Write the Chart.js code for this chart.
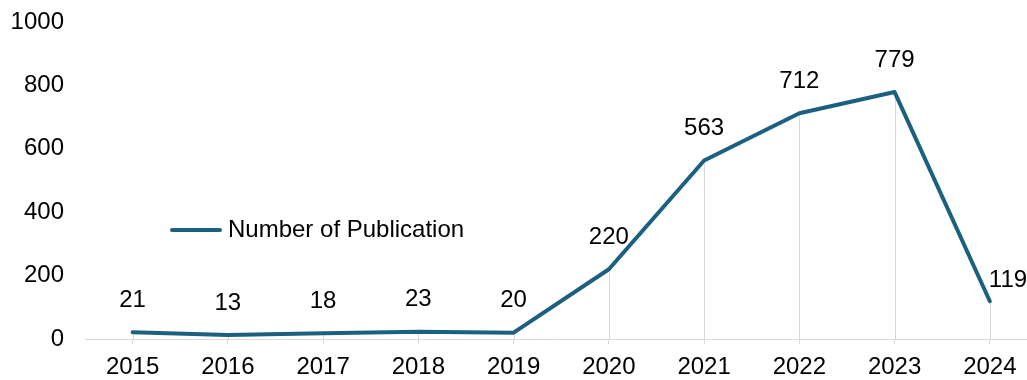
<!DOCTYPE html>
<html>
<head>
<meta charset="utf-8">
<script src="https://cdn.jsdelivr.net/npm/chart.js@4"></script>
<style>
    html, body { margin: 0; padding: 0; background: #fff; overflow: hidden; }
    #wrap { width: 1027px; height: 380px; position: relative; }
</style>
</head>
<body>
<div id="wrap"><canvas id="pubChart"></canvas></div>
<script>
// Data
const years = [2015, 2016, 2017, 2018, 2019, 2020, 2021, 2022, 2023, 2024];
const publications = [21, 13, 18, 23, 20, 220, 563, 712, 779, 119];
const yTicks = [0, 200, 400, 600, 800, 1000];
const seriesLabel = 'Number of Publication';

const lineColor = '#1c6080';
const gridGray = '#d9d9d9';
const fontFamily = "'Liberation Sans', Arial, sans-serif";
const fontSize = 24;

// Gray drop lines from each point down to the baseline
const dropLines = {
    id: 'dropLines',
    beforeDatasetsDraw(chart) {
        const ctx = chart.ctx;
        const meta = chart.getDatasetMeta(0);
        const base = chart.scales.y.getPixelForValue(0);
        ctx.save();
        ctx.strokeStyle = gridGray;
        ctx.lineWidth = 1;
        meta.data.forEach(pt => {
            const x = Math.round(pt.x) + 0.5;
            ctx.beginPath();
            ctx.moveTo(x, pt.y);
            ctx.lineTo(x, base);
            ctx.stroke();
        });
        ctx.restore();
    }
};

// Value labels above the points
const valueLabels = {
    id: 'valueLabels',
    afterDatasetsDraw(chart) {
        const ctx = chart.ctx;
        const meta = chart.getDatasetMeta(0);
        const values = chart.data.datasets[0].data;
        ctx.save();
        ctx.font = fontSize + 'px ' + fontFamily;
        ctx.fillStyle = '#000';
        ctx.textBaseline = 'middle';
        meta.data.forEach((pt, i) => {
            const v = values[i].y;
            if (i === meta.data.length - 1) {
                // last label would run off the edge, so it sits to the right
                ctx.textAlign = 'left';
                ctx.fillText(String(v), pt.x - 1, pt.y - 21);
            } else {
                ctx.textAlign = 'center';
                ctx.fillText(String(v), pt.x, pt.y - 32);
            }
        });
        ctx.restore();
    }
};

// Legend sitting inside the plot
const insideLegend = {
    id: 'insideLegend',
    afterDraw(chart) {
        const ctx = chart.ctx;
        const ds = chart.data.datasets[0];
        ctx.save();
        ctx.strokeStyle = ds.borderColor;
        ctx.lineWidth = 4;
        ctx.lineCap = 'round';
        ctx.beginPath();
        ctx.moveTo(172, 230);
        ctx.lineTo(220, 230);
        ctx.stroke();
        ctx.font = fontSize + 'px ' + fontFamily;
        ctx.fillStyle = '#000';
        ctx.textAlign = 'left';
        ctx.textBaseline = 'middle';
        ctx.fillText(ds.label, 228, 230);
        ctx.restore();
    }
};

const ctx = document.getElementById('pubChart').getContext('2d');
new Chart(ctx, {
    type: 'line',
    data: {
        datasets: [{
            label: seriesLabel,
            data: years.map((yr, i) => ({ x: yr, y: publications[i] })),
            borderColor: lineColor,
            backgroundColor: lineColor,
            borderWidth: 4,
            pointRadius: 0,
            tension: 0,
            borderJoinStyle: 'round',
            borderCapStyle: 'round'
        }]
    },
    options: {
        responsive: true,
        maintainAspectRatio: false,
        animation: false,
        layout: { padding: { top: 22, right: 0, left: 0, bottom: 0 } },
        plugins: {
            legend: { display: false },
            tooltip: { enabled: false }
        },
        scales: {
            x: {
                type: 'linear',
                min: 2014.5,
                max: 2024.39,
                afterBuildTicks(scale) {
                    scale.ticks = years.map(v => ({ value: v }));
                },
                afterFit(scale) {
                    scale.height = 41;
                    scale.paddingLeft = 0;
                    scale.paddingRight = 0;
                },
                grid: { display: true, drawOnChartArea: false, drawTicks: true, tickLength: 5, color: gridGray },
                border: { display: true, color: gridGray, width: 1 },
                ticks: {
                    color: '#000',
                    font: { family: fontFamily, size: fontSize },
                    padding: 9,
                    maxRotation: 0,
                    autoSkip: false,
                    callback: v => String(v)
                }
            },
            y: {
                min: 0,
                max: 1000,
                afterBuildTicks(scale) {
                    scale.ticks = yTicks.map(v => ({ value: v }));
                },
                afterFit(scale) {
                    scale.width = 85;
                    scale.paddingTop = 0;
                    scale.paddingBottom = 0;
                },
                grid: { display: false },
                border: { display: false },
                ticks: {
                    color: '#000',
                    font: { family: fontFamily, size: fontSize },
                    padding: 13,
                    callback: v => String(v)
                }
            }
        }
    },
    plugins: [dropLines, valueLabels, insideLegend]
});
</script>
</body>
</html>
